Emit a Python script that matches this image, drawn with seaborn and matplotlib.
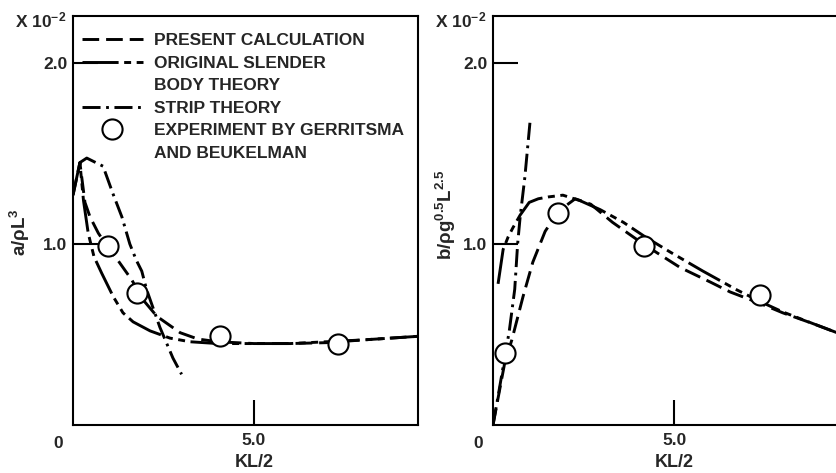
import matplotlib
matplotlib.use("Agg")
import matplotlib.pyplot as plt
from matplotlib.lines import Line2D
import seaborn as sns

# heave added mass a/rho L^3 (x 10^-2) against KL/2
left_present_x = [0, 0.19, 0.33, 0.47, 0.7, 0.97, 1.24, 1.63, 1.9, 2.32, 2.96, 3.45, 4.0, 5.0, 6.0, 7.0, 8.0, 9.53]
left_present_y = [1.27, 1.45, 1.23, 1.15, 1.06, 0.98, 0.91, 0.80, 0.70, 0.60, 0.51, 0.475, 0.46, 0.45, 0.45, 0.455, 0.47, 0.49]
left_slender_x = [0, 0.19, 0.29, 0.42, 0.58, 0.79, 1.11, 1.38, 1.66, 2.13, 2.68, 3.23, 4.0, 5.0, 6.0, 7.0, 8.0, 9.53]
left_slender_y = [1.27, 1.45, 1.24, 1.06, 0.93, 0.84, 0.71, 0.62, 0.57, 0.52, 0.48, 0.46, 0.45, 0.45, 0.45, 0.46, 0.47, 0.49]
left_strip_x = [0.19, 0.38, 0.83, 1.1, 1.35, 1.57, 1.75, 1.9, 2.03, 2.4, 2.76, 3.0]
left_strip_y = [1.45, 1.475, 1.43, 1.28, 1.15, 1.0, 0.91, 0.85, 0.75, 0.54, 0.37, 0.28]
left_exp_x = [0.97, 1.76, 4.06, 7.32]
left_exp_y = [0.99, 0.73, 0.49, 0.45]

# heave damping b/rho g^0.5 L^2.5 (x 10^-2) against KL/2
right_present_x = [0, 0.33, 0.52, 0.83, 1.1, 1.44, 1.8, 2.27, 2.7, 3.3, 4.15, 5.17, 6.0, 6.55, 7.4, 8.0, 8.84, 9.5]
right_present_y = [0, 0.35, 0.47, 0.71, 0.9, 1.07, 1.18, 1.25, 1.22, 1.12, 1.0, 0.87, 0.79, 0.735, 0.67, 0.62, 0.56, 0.51]
right_slender_x = [0.14, 0.28, 0.42, 0.55, 0.75, 1.0, 1.25, 1.52, 1.93, 2.4, 2.96, 3.6, 4.2, 4.89, 5.8, 6.74, 7.4, 8.0, 8.84, 9.5]
right_slender_y = [0.78, 0.97, 1.04, 1.09, 1.16, 1.23, 1.25, 1.26, 1.27, 1.24, 1.19, 1.12, 1.04, 0.956, 0.85, 0.746, 0.68, 0.625, 0.56, 0.51]
right_strip_x = [0, 0.15, 0.33, 0.45, 0.6, 0.68, 0.75, 0.88, 1.02]
right_strip_y = [0, 0.17, 0.38, 0.52, 0.75, 1.0, 1.15, 1.37, 1.67]
right_exp_x = [0.33, 1.8, 4.17, 7.38]
right_exp_y = [0.40, 1.17, 0.99, 0.72]

x_ticks = [5.0]
x_ticklabels = ["5.0"]
y_ticks = [1.0, 2.0]
y_ticklabels = ["1.0", "2.0"]

legend_labels = ["PRESENT CALCULATION", "ORIGINAL SLENDER", "BODY THEORY",
                 "STRIP THEORY", "EXPERIMENT BY GERRITSMA", "AND BEUKELMAN"]

sns.set_style("white")
plt.rcParams["font.family"] = ["Liberation Sans", "DejaVu Sans"]
plt.rcParams["font.weight"] = "bold"
plt.rcParams["mathtext.fontset"] = "custom"
plt.rcParams["mathtext.rm"] = "Liberation Sans:bold"
plt.rcParams["mathtext.it"] = "Liberation Sans:bold"
plt.rcParams["mathtext.bf"] = "Liberation Sans:bold"
plt.rcParams["lines.scale_dashes"] = False

ls_present = (0, (12, 5))
ls_slender = (0, (26, 4, 5, 4, 5, 4))
ls_strip = (0, (13, 4, 2, 4))
lw = 2.1

fig = plt.figure(figsize=(8.36, 4.73), dpi=100)
ax1 = fig.add_axes([73 / 836, 48 / 473, 345 / 836, 409 / 473])
ax2 = fig.add_axes([493 / 836, 48 / 473, 344 / 836, 409 / 473])


def draw(ax, px, py, sx, sy, tx, ty, ex, ey):
    sns.lineplot(x=px, y=py, ax=ax, color="k", lw=lw, linestyle=ls_present,
                 estimator=None, errorbar=None)
    sns.lineplot(x=sx, y=sy, ax=ax, color="k", lw=lw, linestyle=ls_slender,
                 estimator=None, errorbar=None)
    sns.lineplot(x=tx, y=ty, ax=ax, color="k", lw=lw, linestyle=ls_strip,
                 estimator=None, errorbar=None)
    sns.scatterplot(x=ex, y=ey, ax=ax, s=210, color="white", edgecolor="black",
                    linewidth=1.5, zorder=5)


draw(ax1, left_present_x, left_present_y, left_slender_x, left_slender_y,
     left_strip_x, left_strip_y, left_exp_x, left_exp_y)
draw(ax2, right_present_x, right_present_y, right_slender_x, right_slender_y,
     right_strip_x, right_strip_y, right_exp_x, right_exp_y)

ax1.set_xlim(0, 9.53)
ax2.set_xlim(0, 9.5)

for ax in (ax1, ax2):
    ax.set_ylim(0, 2.26)
    ax.set_xticks(x_ticks)
    ax.set_xticklabels(x_ticklabels)
    ax.set_yticks(y_ticks)
    ax.set_yticklabels(y_ticklabels)
    ax.tick_params(axis="both", direction="in", length=18, width=1.5,
                   labelsize=12.5, color="k", bottom=True, left=True)
    ax.tick_params(axis="x", pad=6)
    ax.tick_params(axis="y", pad=4)
    for sp in ax.spines.values():
        sp.set_color("k")
        sp.set_linewidth(1.5)
    ax.set_xlabel("KL/2", fontsize=13, fontweight="bold")
    ax.annotate("0", xy=(0, 0), xycoords="axes fraction", xytext=(-11, -13),
                textcoords="offset points", ha="center", va="center",
                fontsize=12.5, fontweight="bold")
    ax.text(-0.02, 0.973, r"X 10$^{-2}$", transform=ax.transAxes, ha="right",
            va="baseline", fontsize=12.5, fontweight="bold")

ax2.spines["right"].set_visible(False)

ax1.xaxis.set_label_coords(5.0 / 9.53, -0.072)
ax2.xaxis.set_label_coords(5.0 / 9.5, -0.072)

ax1.set_ylabel(r"a/$\rho$L$^3$", fontsize=13.5, fontweight="bold")
ax1.yaxis.set_label_coords(-0.119, 0.472)
ax2.set_ylabel(r"b/$\rho$g$^{0.5}$L$^{2.5}$", fontsize=13.5, fontweight="bold")
ax2.yaxis.set_label_coords(-0.102, 0.513)

handles = [
    Line2D([], [], color="k", lw=lw, linestyle=ls_present),
    Line2D([], [], color="k", lw=lw, linestyle=ls_slender),
    Line2D([], [], linestyle="none"),
    Line2D([], [], color="k", lw=lw, linestyle=ls_strip),
    Line2D([], [], linestyle="none", marker="o", markersize=14.5,
           markerfacecolor="white", markeredgecolor="k", markeredgewidth=1.5),
    Line2D([], [], linestyle="none"),
]
ax1.legend(handles=handles, labels=legend_labels, loc="upper left",
           bbox_to_anchor=(0.026, 0.958), frameon=False, borderpad=0,
           borderaxespad=0, handlelength=3.5, handletextpad=0.65,
           labelspacing=0.42, prop={"weight": "bold", "size": 12.5})

fig.savefig("out.png", dpi=100)
